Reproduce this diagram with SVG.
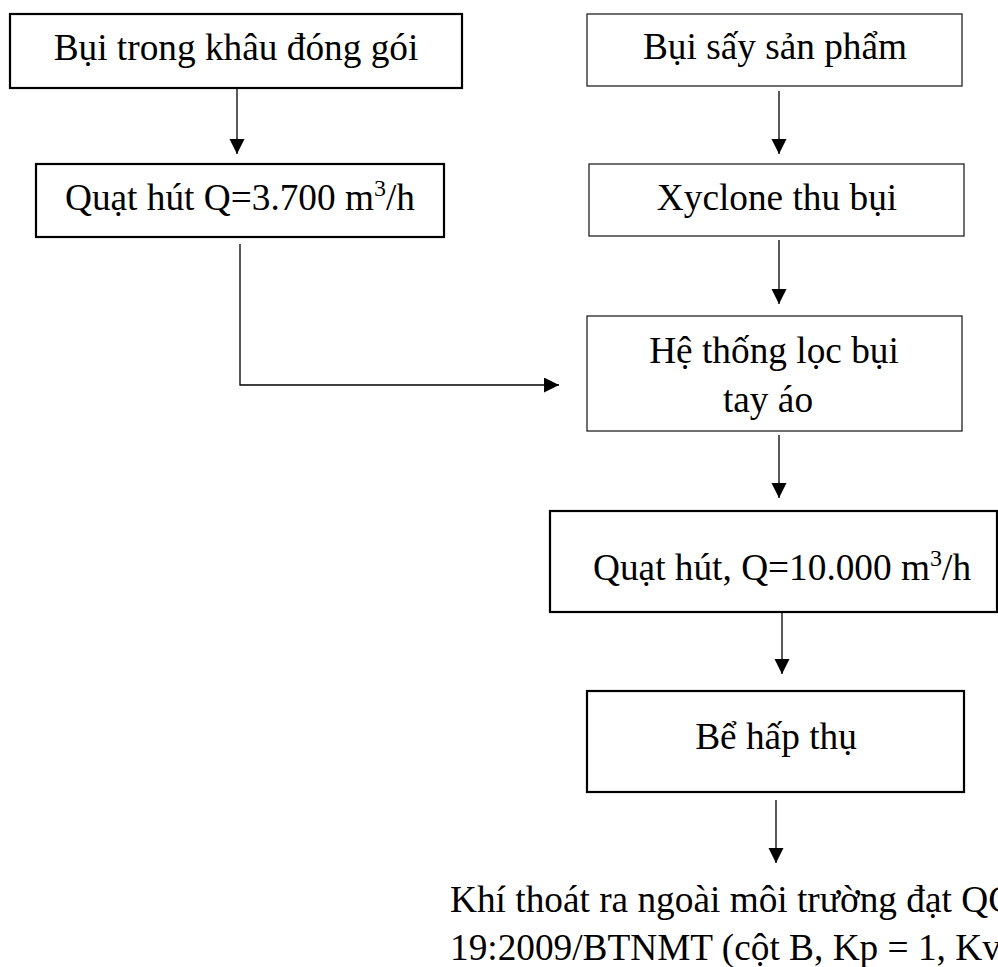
<svg xmlns="http://www.w3.org/2000/svg" width="998" height="967" viewBox="0 0 998 967">
<style>
.bx{fill:#fff;stroke:#000}
.thick{stroke-width:2.2}
.thin{stroke-width:1.3;stroke:#222}
.t{font-family:"Liberation Serif","Times New Roman",serif;font-size:37.3px;fill:#000}
.m{text-anchor:middle}
.sup{font-size:24px}
.ln{fill:none;stroke:#000;stroke-width:1.3}
</style>
<defs>
<marker id="ah" markerUnits="userSpaceOnUse" markerWidth="16" markerHeight="16" refX="15" refY="7.5" orient="auto">
<path d="M0,0 L15,7.5 L0,15 z" fill="#000"/>
</marker>
</defs>
<g id="n1"><rect class="bx thick" x="10" y="14" width="452" height="74"/><text class="t m" x="236" y="60">Bụi trong khâu đóng gói</text></g>
<g id="n2"><rect class="bx thick" x="36" y="164" width="408" height="73"/><text class="t m" x="240" y="210">Quạt hút Q=3.700 m<tspan class="sup" dy="-14">3</tspan><tspan dy="14">/h</tspan></text></g>
<g id="n3"><rect class="bx thin" x="587" y="14" width="375" height="72"/><text class="t m" x="775" y="59">Bụi sấy sản phẩm</text></g>
<g id="n4"><rect class="bx thin" x="589" y="164" width="375" height="72"/><text class="t m" x="777" y="210">Xyclone thu bụi</text></g>
<g id="n5"><rect class="bx thin" x="587" y="316" width="375" height="115"/><text class="t m" x="774" y="363">Hệ thống lọc bụi</text><text class="t m" x="768" y="412">tay áo</text></g>
<g id="n6"><rect class="bx thick" x="550" y="511" width="447" height="101"/><text class="t" x="593" y="580">Quạt hút, Q=10.000 m<tspan class="sup" dy="-14">3</tspan><tspan dy="14">/h</tspan></text></g>
<g id="n7"><rect class="bx thick" x="587" y="691" width="377" height="101"/><text class="t m" x="776" y="749">Bể hấp thụ</text></g>
<g id="n8"><text class="t" x="450" y="912">Khí thoát ra ngoài môi trường đạt QC</text><text class="t" x="450" y="960">19:2009/BTNMT (cột B, Kp = 1, Kv</text></g>
<g id="connectors">
<path class="ln" d="M237,88 L237,154" marker-end="url(#ah)"/>
<path class="ln" d="M779,91 L779,154" marker-end="url(#ah)"/>
<path class="ln" d="M779,240 L779,304" marker-end="url(#ah)"/>
<path class="ln" d="M779,435 L779,498" marker-end="url(#ah)"/>
<path class="ln" d="M782,612 L782,674" marker-end="url(#ah)"/>
<path class="ln" d="M776,800 L776,863" marker-end="url(#ah)"/>
<path class="ln" d="M240,244 L240,385 L559,385" marker-end="url(#ah)"/>
</g>
</svg>
